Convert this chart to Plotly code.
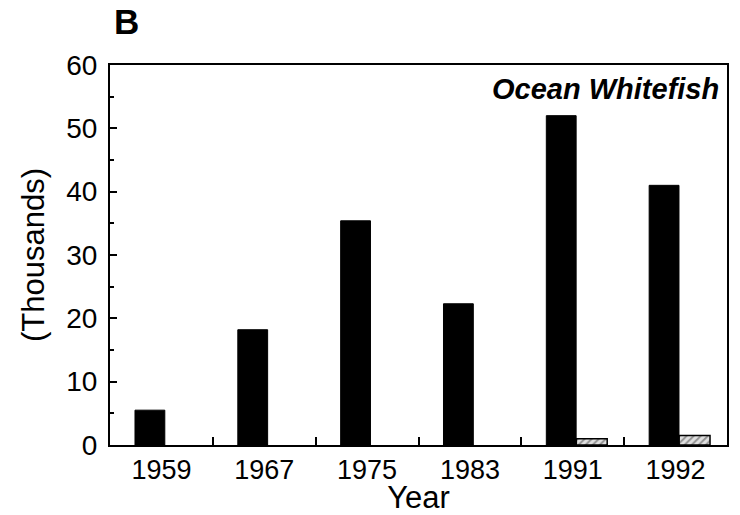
import plotly.graph_objects as go

years = ["1959", "1967", "1975", "1983", "1991", "1992"]
series_a = [5.5, 18.2, 35.4, 22.3, 52.0, 41.0]
series_b = [0.0, 0.0, 0.0, 0.0, 1.0, 1.5]
y_ticks = [0, 10, 20, 30, 40, 50, 60]

font = "Liberation Sans, Arial, sans-serif"

fig = go.Figure()
fig.add_trace(go.Bar(x=years, y=series_a, offset=-0.257, width=0.29,
                     marker=dict(color="black", line=dict(color="black", width=1)), showlegend=False))
fig.add_trace(go.Bar(x=years, y=series_b, offset=0.035, width=0.30,
                     marker=dict(color="#d0d0d0",
                                 line=dict(color="black", width=[0 if v == 0 else 1.5 for v in series_b]),
                                 pattern=dict(shape="/", fgcolor="#444444", bgcolor="#e0e0e0", size=5, solidity=0.4)),
                     showlegend=False))

fig.update_layout(
    width=740, height=515,
    margin=dict(l=110, r=13, t=65, b=70),
    plot_bgcolor="white", paper_bgcolor="white",
    barmode="overlay",
    font=dict(family=font, size=27, color="black"),
    xaxis=dict(showline=True, linecolor="black", linewidth=2, mirror=True, automargin=False,
               ticks="inside", ticklen=8, tickwidth=1.5, tickcolor="black", tickson="boundaries",
               tickfont=dict(size=27), title=dict(text="Year", font=dict(size=31), standoff=0)),
    yaxis=dict(range=[0, 60], tickvals=y_ticks, showline=True, linecolor="black", linewidth=2, mirror=True,
               automargin=False,
               ticks="inside", ticklen=7, tickwidth=1.5, tickcolor="black", showgrid=False, zeroline=False,
               minor=dict(dtick=5, ticks="inside", ticklen=4, tickcolor="black"),
               ticklabelstandoff=5,
               tickfont=dict(size=28), title=dict(text="(Thousands)", font=dict(size=31), standoff=12)),
)
fig.add_annotation(text="<b>B</b>", xref="paper", yref="paper", x=0.004, y=1.0, yshift=44, xanchor="left",
                   yanchor="middle", showarrow=False, font=dict(size=35, family=font))
fig.add_annotation(text="<b><i>Ocean Whitefish</i></b>", xref="paper", yref="paper", x=0.99, y=0.985,
                   xanchor="right", yanchor="top", showarrow=False, font=dict(size=29, family=font))
fig.write_html("out.html")
